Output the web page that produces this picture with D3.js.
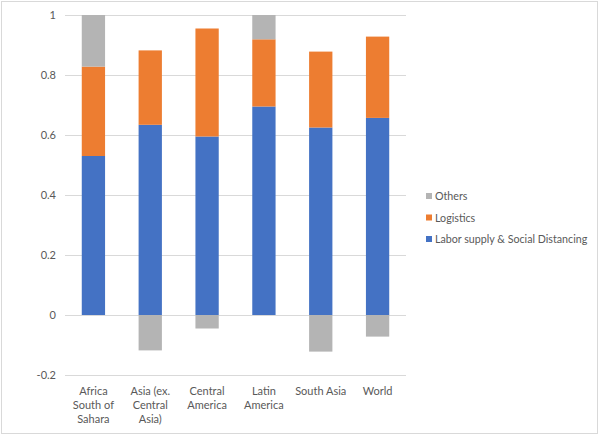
<!DOCTYPE html>
<html><head><meta charset="utf-8">
<script src="https://cdn.jsdelivr.net/npm/d3@7"></script>
<style>body{margin:0;background:#fff}svg{display:block}text{font-family:Lato,"Noto Sans",sans-serif;fill:#595959}</style>
</head><body><svg id="c" width="600" height="436"></svg>
<script>
const categories = ["Africa South of Sahara","Asia (ex. Central Asia)","Central America","Latin America","South Asia","World"];
const categoryLines = [["Africa","South of","Sahara"],["Asia (ex.","Central","Asia)"],["Central","America"],["Latin","America"],["South Asia"],["World"]];
const labor = [0.53, 0.634, 0.595, 0.695, 0.625, 0.657];
const logistics = [0.298, 0.248, 0.36, 0.224, 0.253, 0.271];
const others = [0.172, -0.118, -0.045, 0.081, -0.122, -0.072];
const seriesNames = ["Labor supply & Social Distancing","Logistics","Others"];
const colors = ["#4472C4","#ED7D31","#B4B4B4"];
const yTicks = [-0.2,0,0.2,0.4,0.6,0.8,1];
const yTickLabels = ["-0.2","0","0.2","0.4","0.6","0.8","1"];
const FS = "11px";

const svg = d3.select("#c");
svg.append("rect").attr("x",1.5).attr("y",1.5).attr("width",596).attr("height",432).attr("fill","#fff").attr("stroke","#d9d9d9");

const x = d3.scaleBand().domain(categories).range([65,406]).paddingInner(0.59).paddingOuter(0.295);
const y = d3.scaleLinear().domain([-0.2,1]).range([375,15]);

svg.append("g").selectAll("line").data(yTicks).join("line")
  .attr("x1",65).attr("x2",406).attr("y1",d=>Math.round(y(d))+0.5).attr("y2",d=>Math.round(y(d))+0.5)
  .attr("stroke","#d9d9d9").attr("stroke-width",1);

const series = [labor, logistics, others];
const rects = [];
categories.forEach((c,i)=>{
  let pos=0, neg=0;
  series.forEach((s,k)=>{
    const v=s[i];
    let y0,y1;
    if(v>=0){y0=pos;y1=pos+v;pos=y1;}else{y0=neg;y1=neg+v;neg=y1;}
    rects.push({c,k,y0,y1});
  });
});
svg.append("g").selectAll("rect").data(rects).join("rect")
  .attr("x",d=>x(d.c)).attr("width",x.bandwidth())
  .attr("y",d=>y(Math.max(d.y0,d.y1))).attr("height",d=>Math.abs(y(d.y0)-y(d.y1)))
  .attr("fill",d=>colors[d.k]);

const yAxis = d3.axisLeft(y).tickValues(yTicks).tickFormat((d,i)=>yTickLabels[i]).tickSize(0).tickPadding(9);
const ga = svg.append("g").attr("transform","translate(65,0)").call(yAxis);
ga.select(".domain").remove();
ga.selectAll("text").style("font-size",FS).attr("fill","#595959").style("font-family",'Lato,"Noto Sans",sans-serif');

const xl = svg.append("g").selectAll("text").data(categories).join("text")
  .attr("x",d=>x(d)+x.bandwidth()/2).attr("y",395).attr("text-anchor","middle").style("font-size",FS);
xl.each(function(d,i){
  d3.select(this).selectAll("tspan").data(categoryLines[i]).join("tspan")
    .attr("x",x(d)+x.bandwidth()/2).attr("dy",(t,j)=>j===0?0:14).text(t=>t);
});

const legOrder=[2,1,0];
const lg = svg.append("g").selectAll("g").data(legOrder).join("g")
  .attr("transform",(d,i)=>`translate(426,${196+i*21.5})`);
lg.append("rect").attr("x",0).attr("y",-3).attr("width",6).attr("height",6).attr("fill",d=>colors[d]);
lg.append("text").attr("x",9).attr("y",4).style("font-size","10.7px").text(d=>seriesNames[d]);
</script></body></html>
